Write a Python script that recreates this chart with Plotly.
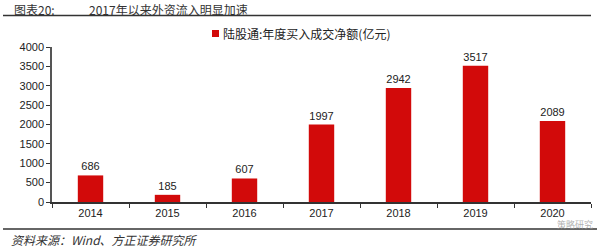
import plotly.graph_objects as go

years = ["2014", "2015", "2016", "2017", "2018", "2019", "2020"]
net_buy = [686, 185, 607, 1997, 2942, 3517, 2089]
y_ticks = [0, 500, 1000, 1500, 2000, 2500, 3000, 3500, 4000]

series_name = "陆股通:年度买入成交净额(亿元)"
title_left = "图表20:"
title_main = "2017年以来外资流入明显加速"
source_text = "资料来源：Wind、方正证券研究所"
watermark = "策略研究"

W, H = 600, 249
L, R, T, B = 52, 9, 47, 47
PW, PH = W - L - R, H - T - B


def px(x):
    return (x - L) / PW


def py(y):
    return (H - B - y) / PH


BAR_COLOR = "#D20A0A"

fig = go.Figure()
fig.add_trace(go.Bar(
    x=years, y=net_buy, name=series_name,
    marker=dict(color=BAR_COLOR, line=dict(width=0)),
    width=0.33,
    text=[str(v) for v in net_buy], textposition="outside",
    textfont=dict(family="Arial, Liberation Sans", size=11, color="#222"),
    cliponaxis=False, showlegend=False,
))

fig.update_layout(
    width=W, height=H,
    margin=dict(l=L, r=R, t=T, b=B),
    plot_bgcolor="white", paper_bgcolor="white",
    showlegend=False,
    xaxis=dict(
        type="category", showline=True, linecolor="#333", linewidth=1.5,
        ticks="outside", tickson="boundaries", ticklen=4, tickcolor="#333",
        tickfont=dict(family="Arial, Liberation Sans", size=11, color="#222"),
        showgrid=False, range=[-0.5, 6.5],
    ),
    yaxis=dict(
        range=[0, 4000], tickvals=y_ticks, showline=True, linecolor="#555",
        linewidth=1.5, ticks="outside", ticklen=4, tickcolor="#333",
        tickfont=dict(family="Arial, Liberation Sans", size=11, color="#222"),
        showgrid=False, zeroline=False,
    ),
)

# legend (drawn manually for exact placement)
fig.add_shape(type="rect", xref="paper", yref="paper",
              x0=px(212), x1=px(219), y0=py(37), y1=py(30),
              fillcolor=BAR_COLOR, line=dict(width=0))
fig.add_annotation(text=series_name, xref="paper", yref="paper",
                   x=px(221), y=py(33.5), xanchor="left", yanchor="middle",
                   showarrow=False,
                   font=dict(family="Noto Sans CJK SC", size=12, color="#222"))

# title row
fig.add_annotation(text=title_left, xref="paper", yref="paper",
                   x=px(12), y=py(9.5), xanchor="left", yanchor="middle",
                   showarrow=False,
                   font=dict(family="Noto Sans CJK SC", size=12, color="#333"))
fig.add_annotation(text=title_main, xref="paper", yref="paper",
                   x=px(87), y=py(9.5), xanchor="left", yanchor="middle",
                   showarrow=False,
                   font=dict(family="Noto Sans CJK SC", size=12, color="#333"))
# source
fig.add_annotation(text="<i>" + source_text + "</i>", xref="paper", yref="paper",
                   x=px(9), y=py(239), xanchor="left", yanchor="middle",
                   showarrow=False,
                   font=dict(family="Noto Sans CJK SC", size=12, color="#333"))
# watermark
fig.add_annotation(text=watermark, xref="paper", yref="paper",
                   x=px(575), y=py(224), xanchor="center", yanchor="middle",
                   showarrow=False,
                   font=dict(family="Noto Sans CJK SC", size=9, color="rgba(150,150,150,0.75)"))

# rules
fig.add_shape(type="line", xref="paper", yref="paper",
              x0=px(3), x1=px(591), y0=py(15.5), y1=py(15.5),
              line=dict(color="#333", width=1.5))
fig.add_shape(type="line", xref="paper", yref="paper",
              x0=px(3), x1=px(597), y0=py(229), y1=py(229),
              line=dict(color="#333", width=1.5))

fig.write_html("out.html")
